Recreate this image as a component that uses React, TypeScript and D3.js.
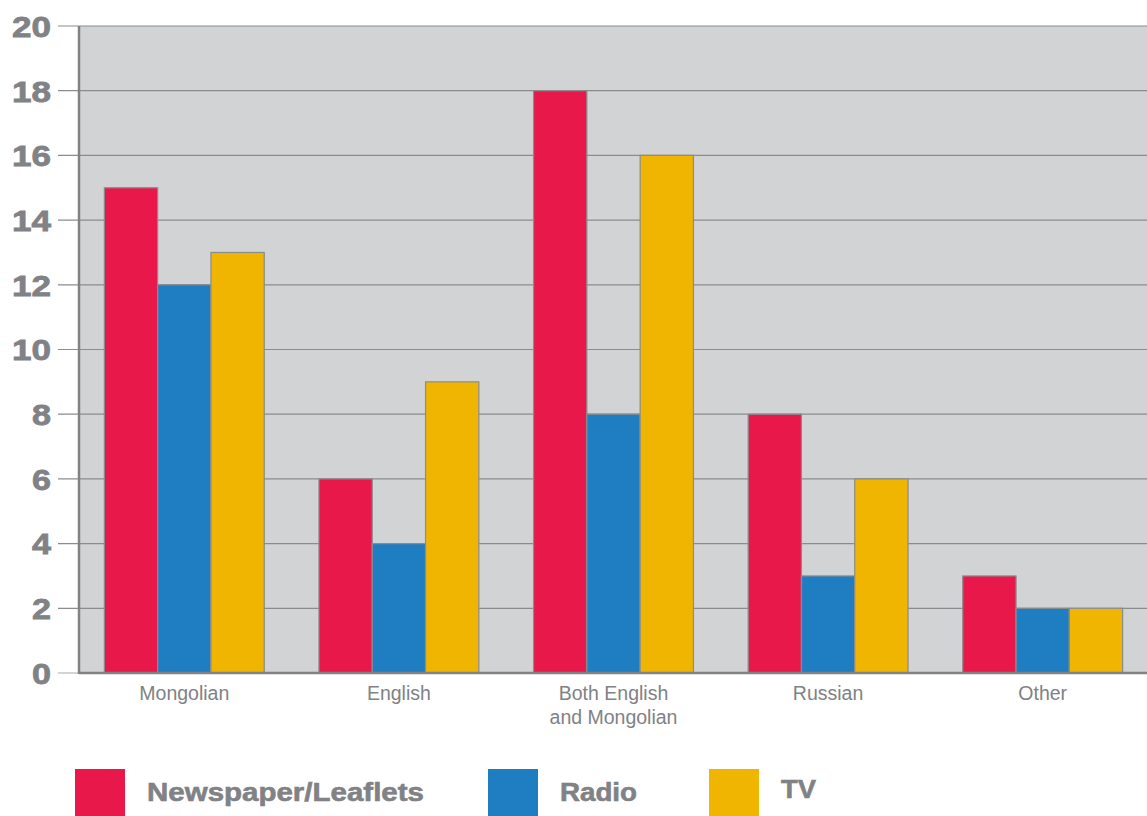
import React from "react";
import * as d3 from "d3";

const categories = ["Mongolian", "English", "Both English\nand Mongolian", "Russian", "Other"];
const seriesNames = ["Newspaper/Leaflets", "Radio", "TV"];
const newspaper = [15, 6, 18, 8, 3];
const radio = [12, 4, 8, 3, 2];
const tv = [13, 9, 16, 6, 2];
const yTicks = [0, 2, 4, 6, 8, 10, 12, 14, 16, 18, 20];
const colors = ["#E8194A", "#1F7EC2", "#EFB500"];

const W = 1147, H = 816;
const left = 79, right = 1147, top = 26, bottom = 673;
const gray = "#808285";
const font = "'Liberation Sans', Arial, Helvetica, sans-serif";

export default function App() {
  const series = [newspaper, radio, tv];
  const x = d3.scaleBand<number>().domain(d3.range(categories.length)).range([77, 1150]).paddingInner(0.255).paddingOuter(0.1275);
  const x1 = d3.scaleBand<number>().domain([0, 1, 2]).range([0, x.bandwidth()]);
  const y = d3.scaleLinear().domain([0, 20]).range([bottom, top]);
  const legendX = [75, 488, 709];
  const legendW = [277, 77, 35];
  return (
    <svg width={W} height={H} style={{ position: "absolute", left: 0, top: 0 }} fontFamily={font}>
      <rect x={left} y={top} width={right - left} height={bottom - top} fill="#D1D3D4" />
      {yTicks.map((t) => {
        const s = String(t);
        return (
          <g key={t}>
            <line x1={58} x2={right} y1={y(t)} y2={y(t)} stroke={t === 0 ? "#a7a9ac" : "#8a8c8e"} strokeWidth={1.2} />
            <text x={51 - (s.length === 1 ? 19 : 39)} y={y(t)} dy="0.36em" fontSize={30} fontWeight="bold" fill={gray}
              stroke={gray} strokeWidth={0.8}
              textLength={s.length === 1 ? 19 : 39} lengthAdjust="spacingAndGlyphs">{s}</text>
          </g>
        );
      })}
      {categories.map((c, i) =>
        series.map((s, j) => (
          <rect key={`${i}-${j}`} x={(x(i) as number) + (x1(j) as number)} y={y(s[i])} width={x1.bandwidth()} height={y(0) - y(s[i])} fill={colors[j]} stroke="#8a8c8e" strokeWidth={1.2} />
        ))
      )}
      <line x1={left} x2={left} y1={top} y2={bottom + 1} stroke={gray} strokeWidth={2.5} />
      <line x1={left} x2={right} y1={bottom} y2={bottom} stroke={gray} strokeWidth={2.5} />
      {categories.map((c, i) => (
        <text key={c} x={(x(i) as number) + x.bandwidth() / 2} y={700} textAnchor="middle" fontSize={19.5} fill={gray}>
          {c.split("\n").map((line, k) => (
            <tspan key={k} x={(x(i) as number) + x.bandwidth() / 2} dy={k === 0 ? 0 : 24}>{line}</tspan>
          ))}
        </text>
      ))}
      {seriesNames.map((n, j) => (
        <g key={n}>
          <rect x={legendX[j]} y={769} width={50} height={47} fill={colors[j]} />
          <text x={legendX[j] + 72} y={j === 2 ? 798 : 801} fontSize={26} fontWeight="bold" fill={gray}
            stroke={gray} strokeWidth={0.6}
            textLength={legendW[j]} lengthAdjust="spacingAndGlyphs">{n}</text>
        </g>
      ))}
    </svg>
  );
}
